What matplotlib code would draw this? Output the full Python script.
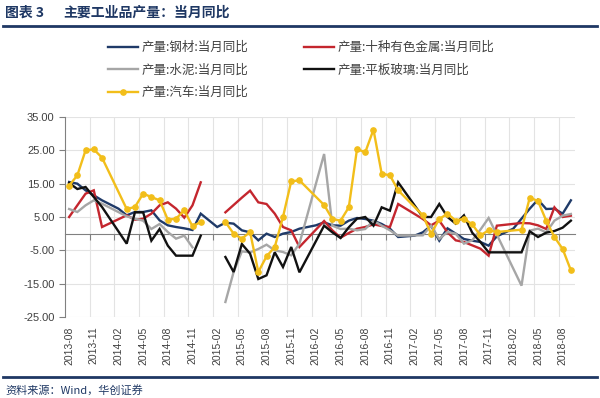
import numpy as np
import pandas as pd
import matplotlib
matplotlib.use("Agg")
import matplotlib.pyplot as plt
from matplotlib.lines import Line2D

plt.rcParams['font.family'] = ['Noto Sans CJK SC', 'DejaVu Sans']

nan = np.nan

# 月份 2013-08 .. 2018-09
months = pd.date_range("2013-08-01", periods=62, freq="MS").strftime("%Y-%m").tolist()

# 产量:钢材:当月同比
steel = [15.5, 15.0, 13.0, 11.5, 10.0, nan, 7.5, 5.5, 6.5, 6.5, 7.0, 4.0, 2.5, 2.0, 1.6, 1.1,
         6.0, nan, 2.0, 3.3, 3.0, 1.0, 0.4, -2.0, 0.0, -1.0, 0.0, 0.5, 1.5, nan, 2.5, 3.4,
         2.5, 2.4, 3.9, 4.7, 4.4, 3.9, 2.9, 1.5, -1.0, nan, -0.6, 0.4, 2.4, -2.1, 1.6, 0.0,
         -1.6, -2.1, -2.5, -3.6, -0.8, nan, 1.5, 4.5, 7.5, 10.2, 7.4, 7.5, 6.0, 10.0]
# 产量:十种有色金属:当月同比
nonferrous = [5.0, 8.5, 12.0, 13.0, 2.0, nan, nan, 5.5, 4.2, 4.5, 6.0, 8.5, 9.4, 7.5, 4.8, 8.5,
              15.4, nan, nan, 6.4, 8.6, 10.8, 12.9, 9.4, 8.9, 6.0, 2.0, 1.0, -4.0, nan, nan, 3.8,
              1.0, -1.2, 0.2, 1.5, 2.0, 2.8, 2.3, 2.0, 8.9, nan, nan, 4.4, 2.5, 3.9, 0.4, -2.0,
              -2.5, -3.5, -4.5, -6.6, 2.4, nan, nan, 3.2, 3.1, 2.5, 1.4, 7.9, 5.0, 5.4]
# 产量:水泥:当月同比
cement = [7.4, 6.5, 8.5, 10.0, 9.0, nan, nan, 5.2, 4.5, 3.9, 1.4, 2.9, 0.5, -1.5, -0.6, -4.1,
          nan, nan, nan, -20.5, -11.5, -5.3, -5.6, -4.6, -3.3, -5.0, -5.5, -6.5, -3.0, nan, nan, 23.9,
          2.4, 1.4, 1.5, 1.0, 1.4, 3.9, 2.4, 1.0, -0.6, nan, nan, -0.5, 2.4, -1.6, 0.5, 0.0,
          -3.0, -2.0, 1.2, 4.7, -0.3, nan, nan, -15.6, 0.9, 1.5, 0.4, 3.9, 5.4, 5.9]
# 产量:平板玻璃:当月同比
glass = [15.2, 13.4, 14.0, 11.0, 8.0, nan, nan, -3.0, 6.4, 6.4, -2.1, 1.4, -3.6, -6.6, -6.6, -6.6,
         -0.6, nan, nan, -7.0, -11.5, -3.1, -6.0, -13.6, -12.5, -5.6, -10.0, -4.0, -11.6, nan, nan, 2.4,
         0.4, -1.3, 1.9, 4.5, 5.0, 2.4, 7.9, 6.9, 15.4, nan, nan, 5.0, 5.0, 8.9, 5.0, 3.0,
         5.5, 0.3, -2.5, -5.6, -5.6, nan, nan, -5.6, 0.7, -1.0, 0.3, 0.8, 1.8, 3.9]
# 产量:汽车:当月同比
auto = [14.4, 17.5, 25.0, 25.3, 22.8, nan, nan, 7.4, 8.0, 12.0, 11.0, 10.0, 4.2, 4.5, 7.0, 2.2,
        3.5, nan, nan, 3.5, 0.0, -1.5, 0.5, -11.5, -6.8, -4.0, 5.0, 15.7, 16.0, nan, nan, 8.6,
        4.4, 3.9, 7.9, 25.4, 24.4, 31.2, 18.0, 17.5, 13.0, nan, nan, 5.5, 0.0, 4.4, 6.0, 3.9,
        4.5, 2.8, -0.5, 1.0, 0.5, nan, nan, 1.2, 10.8, 9.8, 3.9, -1.0, -4.6, -11.0]

series = [
    ("产量:钢材:当月同比", steel, "#1F3A68", False, None),
    ("产量:十种有色金属:当月同比", nonferrous, "#C4262E", True, None),
    ("产量:水泥:当月同比", cement, "#A6A6A6", True, None),
    ("产量:平板玻璃:当月同比", glass, "#111111", True, None),
    ("产量:汽车:当月同比", auto, "#F2BE1A", True, "o"),
]

fig = plt.figure(figsize=(6, 3.98), dpi=100)
ax = fig.add_axes([65 / 600, 1 - 317 / 398, 510 / 600, 200 / 398])

idx = np.arange(len(months))
handles = {}
for z, (name, vals, color, brk, mk) in enumerate(series):
    v = np.array(vals, dtype=float)
    # 2015年1-2月断开, 其他缺失月份直接连线
    parts = [(0, 17), (17, len(v))] if brk else [(0, len(v))]
    for a, b in parts:
        xs, ys = idx[a:b], v[a:b]
        m = ~np.isnan(ys)
        ln, = ax.plot(xs[m], ys[m], color=color, lw=1.7, marker=mk, ms=3.8,
                      zorder=3 + z, solid_joinstyle="miter")
    handles[name] = ln

ax.set_xlim(-0.5, 61.5)
ax.set_ylim(-25, 35)

yt = np.arange(-25, 36, 10)
ax.set_yticks(yt)
ax.set_yticklabels([f"{t:.2f}" for t in yt], fontsize=8, color="#404040",
                   family=["Liberation Sans", "DejaVu Sans"])
ax.tick_params(axis="y", length=4, color="#808080", direction="out")

lab_pos = idx[::3]
ax.set_xticks(lab_pos)
ax.set_xticklabels([months[i] for i in lab_pos], rotation=90, fontsize=7.5, color="#404040",
                   family=["Liberation Sans", "DejaVu Sans"])
ax.tick_params(axis="x", length=0, pad=7)

for s in ["top", "right", "bottom"]:
    ax.spines[s].set_visible(False)
ax.spines["left"].set_color("#808080")

bounds = np.arange(2.5, 62, 3)
for b in bounds:
    ax.axvline(b, color="#e3e3e3", lw=0.8, zorder=0)
for t in yt:
    ax.axhline(t, color="#e3e3e3", lw=0.8, zorder=0)

# 零轴与刻度
sec = ax.secondary_xaxis(0, transform=ax.transData)
sec.set_xticks(bounds)
sec.tick_params(labelbottom=False, length=4, color="#808080", direction="out")
sec.spines["bottom"].set_color("#808080")

order = ["产量:钢材:当月同比", "产量:水泥:当月同比", "产量:汽车:当月同比",
         "产量:十种有色金属:当月同比", "产量:平板玻璃:当月同比"]
leg = fig.legend([handles[k] for k in order], order, ncol=2, loc="upper left",
                 bbox_to_anchor=(97 / 600, 1 - 30 / 398), frameon=False, fontsize=9,
                 handlelength=2.4, handletextpad=0.3, columnspacing=4.4, labelspacing=0.75,
                 numpoints=1)
for t in leg.get_texts():
    t.set_color("#404040")

navy = "#1F3864"
fig.text(5 / 600, 1 - 13 / 398, "图表 3", fontsize=10, weight="bold", color=navy, va="center")
fig.text(63 / 600, 1 - 13 / 398, "主要工业品产量：当月同比", fontsize=10, weight="bold",
         color=navy, va="center")
fig.add_artist(Line2D([3 / 600, 597 / 600], [1 - 26 / 398, 1 - 26 / 398], color=navy, lw=2,
                      transform=fig.transFigure))
fig.add_artist(Line2D([3 / 600, 597 / 600], [1 - 377 / 398, 1 - 377 / 398], color=navy, lw=2,
                      transform=fig.transFigure))
fig.text(5 / 600, 1 - 390 / 398, "资料来源：Wind，华创证券", fontsize=8, style="italic",
         color=navy, va="center")

fig.savefig("out.png", dpi=100)
